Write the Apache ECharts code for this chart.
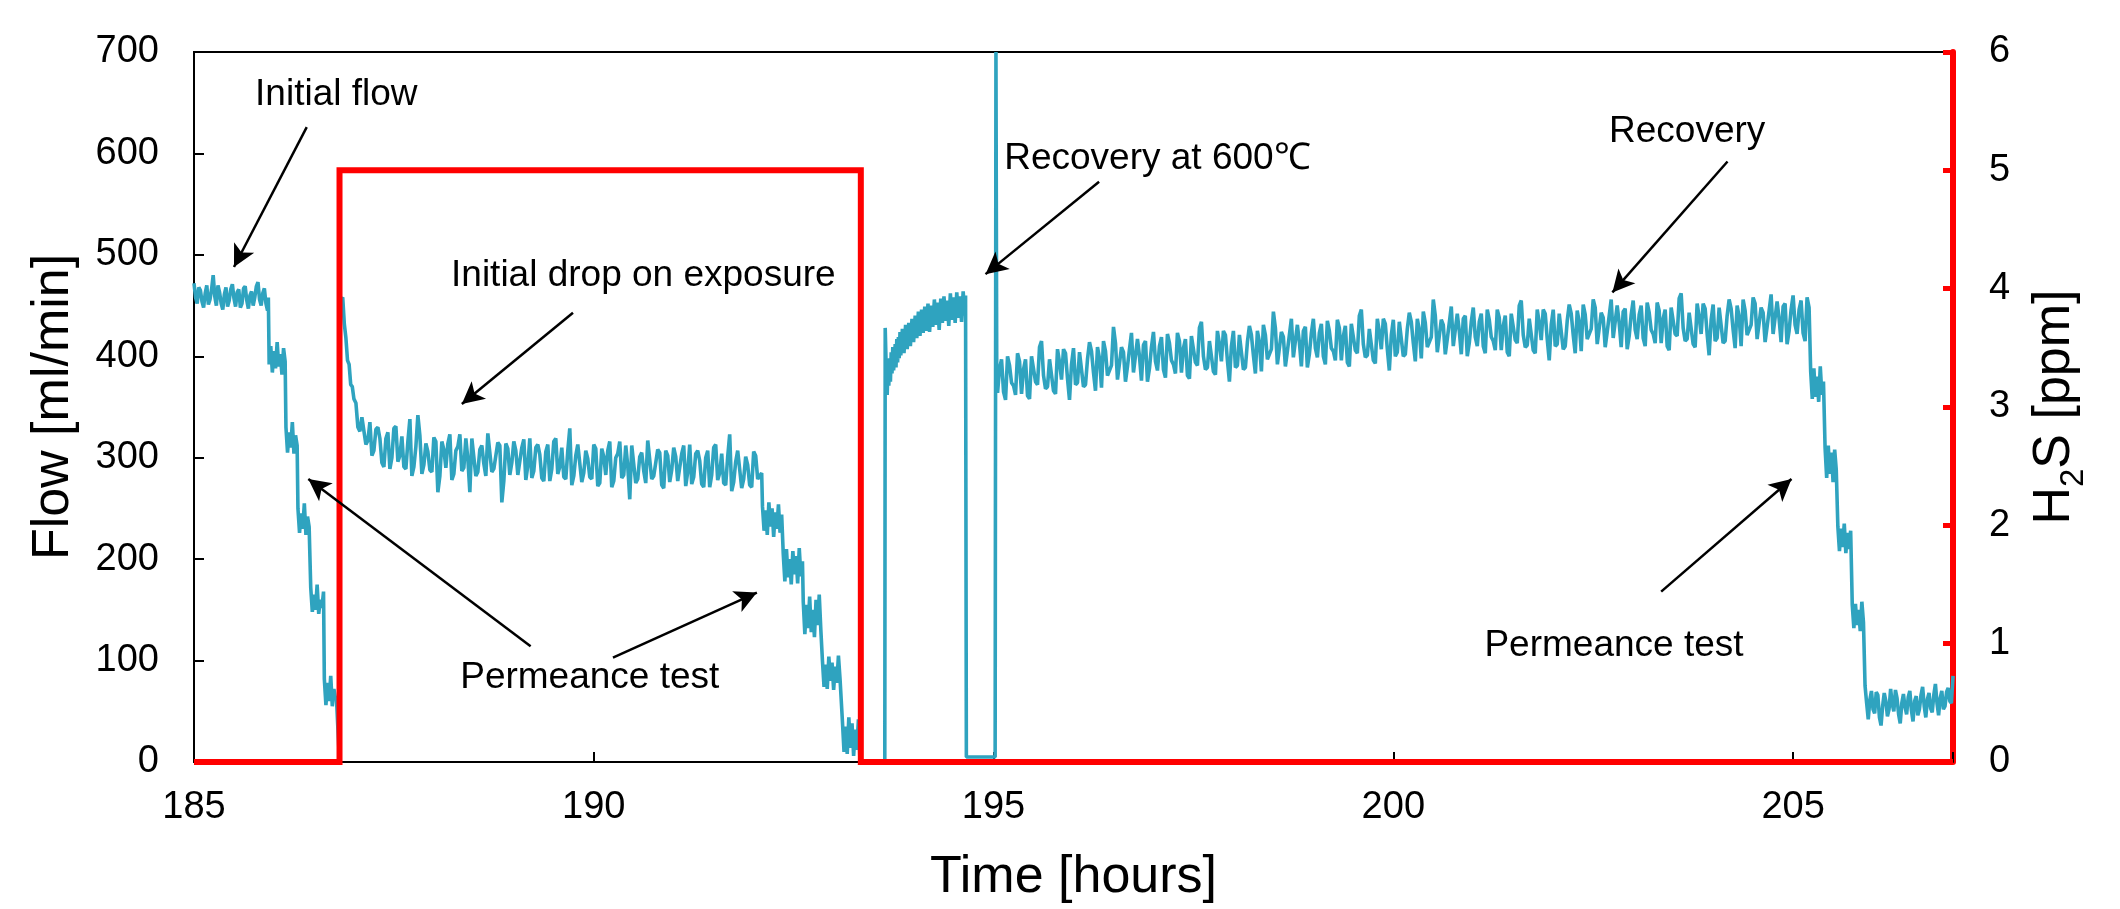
<!DOCTYPE html>
<html>
<head>
<meta charset="utf-8">
<script src="https://cdn.jsdelivr.net/npm/echarts@6/dist/echarts.min.js"></script>
<style>
  html, body { margin: 0; padding: 0; background: #fff; }
  #chart { width: 2120px; height: 909px; }
</style>
</head>
<body>
<div id="chart"></div>
<script>
// ---------- DATA (time [hours], value) ----------
const xTicks = [185, 190, 195, 200, 205];

// H2S concentration [ppm] (right axis)
const h2sData = [[185, 0], [186.82, 0], [186.82, 5], [193.34, 5], [193.34, 0], [207, 0]];

// Flow [ml/min] (left axis), read segment by segment
const flowInitial = [[185.00,472],[185.02,458],[185.04,452],[185.06,468],[185.08,465],[185.10,454],[185.12,448],[185.14,462],[185.16,470],[185.18,451],[185.20,456],[185.22,466],[185.24,480],[185.26,459],[185.28,450],[185.30,470],[185.32,463],[185.34,452],[185.36,446],[185.38,461],[185.40,468],[185.42,449],[185.44,455],[185.46,466],[185.48,471],[185.50,457],[185.52,449],[185.54,463],[185.56,466],[185.58,448],[185.60,452],[185.62,467],[185.64,469],[185.66,455],[185.68,447],[185.70,460],[185.72,464],[185.74,450],[185.76,458],[185.78,469],[185.80,473],[185.82,456],[185.84,450],[185.86,462],[185.88,467],[185.90,452],[185.92,445],[185.93,458]];

const flowStepsA = [[185.94,392],[185.96,410],[185.98,384],[186.00,405],[186.02,388],[186.04,414],[186.06,390],[186.08,402],[186.10,382],[186.12,408],[186.14,395],
[186.15,330],[186.17,305],[186.19,325],[186.21,310],[186.23,335],[186.25,304],[186.27,322],[186.29,312],
[186.30,250],[186.32,226],[186.34,245],[186.36,230],[186.38,255],[186.40,224],[186.42,242],[186.44,232],
[186.46,172],[186.48,148],[186.50,165],[186.52,150],[186.54,175],[186.56,146],[186.58,160],[186.60,152],[186.62,168],
[186.63,82],[186.65,56],[186.67,78],[186.69,60],[186.71,85],[186.73,55],[186.75,72],[186.77,62],[186.78,65],[186.82,0],[186.83,455]];

const flowExposure = [[186.86,458],[186.88,432],[186.90,418],[186.92,396],[186.94,392],[186.96,372],[186.98,370],
[187.000,358],[187.025,354],[187.050,330],[187.075,326],[187.100,340],[187.125,341],[187.150,313],[187.175,317],[187.200,335],[187.225,302],
[187.250,307],[187.275,328],[187.300,330],[187.325,319],[187.350,295],[187.375,291],[187.400,319],[187.425,325],[187.450,289],[187.475,300],
[187.500,329],[187.525,331],[187.550,296],[187.575,302],[187.600,321],[187.625,291],[187.650,289],[187.675,316],[187.700,338],[187.725,282],
[187.750,291],[187.775,311],[187.800,342],[187.825,322],[187.850,284],[187.875,293],[187.900,314],[187.925,306],[187.950,288],[187.975,286],
[188.000,320],[188.025,316],[188.050,266],[188.075,282],[188.100,316],[188.125,308],[188.150,290],[188.175,314],[188.200,323],[188.225,278],
[188.250,284],[188.275,307],[188.300,311],[188.325,323],[188.350,287],[188.375,290],[188.400,319],[188.425,299],[188.450,266],[188.475,319],
[188.500,320],[188.525,282],[188.550,286],[188.575,308],[188.600,312],[188.625,294],[188.650,282],[188.675,324],[188.700,323],[188.725,286],
[188.750,289],[188.775,302],[188.800,315],[188.825,312],[188.850,256],[188.875,277],[188.900,314],[188.925,309],[188.950,283],[188.975,295],
[189.000,316],[189.025,307],[189.050,283],[189.075,284],[189.100,310],[189.125,318],[189.150,278],[189.175,292],[189.200,319],[189.225,280],
[189.250,287],[189.275,310],[189.300,313],[189.325,303],[189.350,280],[189.375,277],[189.400,306],[189.425,313],[189.450,277],[189.475,289],
[189.500,316],[189.525,319],[189.550,284],[189.575,291],[189.600,310],[189.625,281],[189.650,279],[189.675,307],[189.700,329],[189.725,273],
[189.750,282],[189.775,302],[189.800,313],[189.825,314],[189.850,276],[189.875,285],[189.900,307],[189.925,299],[189.950,281],[189.975,279],
[190.000,313],[190.025,309],[190.050,272],[190.075,275],[190.100,309],[190.125,301],[190.150,283],[190.175,307],[190.200,316],[190.225,271],
[190.250,277],[190.275,300],[190.300,304],[190.325,316],[190.350,280],[190.375,283],[190.400,312],[190.425,292],[190.450,259],[190.475,312],
[190.500,313],[190.525,275],[190.550,279],[190.575,301],[190.600,305],[190.625,287],[190.650,275],[190.675,317],[190.700,316],[190.725,279],
[190.750,282],[190.775,295],[190.800,308],[190.825,305],[190.850,273],[190.875,270],[190.900,307],[190.925,302],[190.950,276],[190.975,288],
[191.000,310],[191.025,301],[191.050,277],[191.075,278],[191.100,304],[191.125,312],[191.150,272],[191.175,286],[191.200,313],[191.225,274],
[191.250,281],[191.275,304],[191.300,307],[191.325,297],[191.350,274],[191.375,271],[191.400,300],[191.425,307],[191.450,271],[191.475,283],
[191.500,310],[191.525,313],[191.550,278],[191.575,285],[191.600,304],[191.625,275],[191.650,273],[191.675,301],[191.700,323],[191.725,267],
[191.750,276],[191.775,296],[191.800,307],[191.825,308],[191.850,270],[191.875,279],[191.900,301],[191.925,293],[191.950,273],[191.975,271],
[192.000,306],[192.025,302],[192.050,279],[192.100,285]];

const flowStepsB = [[192.11,252],[192.13,228],[192.15,248],[192.17,224],[192.19,256],[192.21,232],[192.23,250],[192.25,222],[192.27,246],[192.29,230],[192.31,254],[192.33,226],[192.35,244],
[192.37,205],[192.39,178],[192.41,210],[192.43,182],[192.45,200],[192.47,175],[192.49,208],[192.51,185],[192.53,203],[192.55,176],[192.57,211],[192.59,183],[192.61,198],
[192.62,158],[192.64,126],[192.66,155],[192.68,132],[192.70,163],[192.72,128],[192.74,150],[192.76,123],[192.78,160],[192.80,135],[192.82,165],[192.84,130],
[192.86,100],[192.88,74],[192.90,96],[192.92,72],[192.94,104],[192.96,80],[192.98,98],[193.00,71],[193.02,94],[193.04,78],[193.06,105],[193.08,82],
[193.11,40],[193.13,10],[193.15,35],[193.17,8],[193.19,44],[193.21,14],[193.23,38],[193.25,6],[193.27,32],[193.29,12],[193.31,42],[193.33,0],[193.64,0]];

const flowRecovery600 = [[193.645,428],[193.66,380],[193.67,362],[193.68,392],[193.69,371],[193.70,398],[193.71,375],[193.72,404],[193.73,383],[193.74,409],[193.75,386],[193.76,397],[193.77,412],[193.78,389],[193.79,417],[193.80,394],[193.81,419],[193.82,398],[193.83,424],[193.84,401],
[193.86,427],[193.88,403],[193.90,431],[193.92,407],[193.94,433],[193.96,410],[193.98,437],[194.00,414],[194.02,440],[194.04,418],[194.06,444],[194.08,420],[194.10,446],[194.12,423],[194.14,449],[194.16,425],[194.18,452],[194.20,424],[194.22,450],[194.24,429],
[194.26,456],[194.28,431],[194.30,453],[194.32,426],[194.34,457],[194.36,433],[194.38,459],[194.40,435],[194.42,455],[194.44,430],[194.46,462],[194.48,436],[194.50,458],[194.52,433],[194.54,463],[194.56,438],[194.58,459],[194.60,434],[194.62,464],[194.64,440],[194.65,460],[194.66,5]];

const flowPurge = [[195.02,5],[195.03,700],[195.04,385]];

const flowRecovery = [
[195.050,364],[195.075,388],[195.100,397],[195.125,365],[195.150,357],[195.175,400],[195.200,391],[195.225,374],[195.250,371],[195.275,362],
[195.300,403],[195.325,395],[195.350,363],[195.375,387],[195.400,397],[195.425,361],[195.450,358],[195.475,400],[195.500,401],[195.525,375],
[195.550,372],[195.575,409],[195.600,415],[195.625,381],[195.650,368],[195.675,370],[195.700,397],[195.725,398],[195.750,366],[195.775,363],
[195.800,407],[195.825,394],[195.850,377],[195.875,407],[195.900,403],[195.925,378],[195.950,357],[195.975,392],[196.000,408],[196.025,372],
[196.050,374],[196.075,404],[196.100,404],[196.125,370],[196.150,372],[196.175,397],[196.200,414],[196.225,405],[196.250,384],[196.275,366],
[196.300,409],[196.325,398],[196.350,369],[196.375,415],[196.400,405],[196.425,381],[196.450,380],[196.475,391],[196.500,429],[196.525,413],
[196.550,377],[196.575,376],[196.600,409],[196.625,404],[196.650,375],[196.675,390],[196.700,407],[196.725,423],[196.750,384],[196.775,383],
[196.800,417],[196.825,400],[196.850,376],[196.875,411],[196.900,415],[196.925,375],[196.950,388],[196.975,409],[197.000,424],[197.025,395],
[197.050,386],[197.075,410],[197.100,419],[197.125,387],[197.150,379],[197.175,422],[197.200,413],[197.225,396],[197.250,392],[197.275,383],
[197.300,423],[197.325,415],[197.350,384],[197.375,408],[197.400,417],[197.425,381],[197.450,378],[197.475,420],[197.500,420],[197.525,394],
[197.550,391],[197.575,428],[197.600,434],[197.625,400],[197.650,387],[197.675,389],[197.700,415],[197.725,416],[197.750,385],[197.775,382],
[197.800,425],[197.825,412],[197.850,395],[197.875,425],[197.900,421],[197.925,396],[197.950,375],[197.975,410],[198.000,425],[198.025,389],
[198.050,391],[198.075,421],[198.100,421],[198.125,387],[198.150,389],[198.175,414],[198.200,430],[198.225,421],[198.250,401],[198.275,383],
[198.300,425],[198.325,414],[198.350,385],[198.375,431],[198.400,421],[198.425,397],[198.450,396],[198.475,407],[198.500,444],[198.525,428],
[198.550,392],[198.575,391],[198.600,424],[198.625,419],[198.650,390],[198.675,405],[198.700,421],[198.725,437],[198.750,399],[198.775,398],
[198.800,431],[198.825,414],[198.850,390],[198.875,425],[198.900,429],[198.925,389],[198.950,402],[198.975,423],[199.000,437],[199.025,408],
[199.050,399],[199.075,423],[199.100,432],[199.125,400],[199.150,392],[199.175,435],[199.200,425],[199.225,408],[199.250,405],[199.275,396],
[199.300,436],[199.325,428],[199.350,396],[199.375,420],[199.400,430],[199.425,394],[199.450,390],[199.475,432],[199.500,432],[199.525,406],
[199.550,403],[199.575,440],[199.600,446],[199.625,412],[199.650,399],[199.675,401],[199.700,427],[199.725,428],[199.750,396],[199.775,393],
[199.800,437],[199.825,424],[199.850,407],[199.875,437],[199.900,432],[199.925,407],[199.950,386],[199.975,421],[200.000,436],[200.025,400],
[200.050,404],[200.075,434],[200.100,434],[200.125,400],[200.150,402],[200.175,427],[200.200,443],[200.225,434],[200.250,413],[200.275,395],
[200.300,437],[200.325,426],[200.350,398],[200.375,444],[200.400,433],[200.425,409],[200.450,408],[200.475,419],[200.500,456],[200.525,440],
[200.550,404],[200.575,403],[200.600,436],[200.625,431],[200.650,402],[200.675,417],[200.700,433],[200.725,449],[200.750,410],[200.775,409],
[200.800,442],[200.825,425],[200.850,402],[200.875,437],[200.900,440],[200.925,400],[200.950,413],[200.975,434],[201.000,448],[201.025,419],
[201.050,410],[201.075,434],[201.100,442],[201.125,410],[201.150,403],[201.175,446],[201.200,436],[201.225,419],[201.250,415],[201.275,406],
[201.300,446],[201.325,438],[201.350,406],[201.375,430],[201.400,440],[201.425,404],[201.450,400],[201.475,442],[201.500,442],[201.525,416],
[201.550,413],[201.575,450],[201.600,455],[201.625,421],[201.650,409],[201.675,411],[201.700,437],[201.725,438],[201.750,406],[201.775,403],
[201.800,446],[201.825,433],[201.850,416],[201.875,446],[201.900,442],[201.925,417],[201.950,396],[201.975,431],[202.000,446],[202.025,410],
[202.050,412],[202.075,442],[202.100,441],[202.125,407],[202.150,410],[202.175,435],[202.200,451],[202.225,442],[202.250,421],[202.275,403],
[202.300,445],[202.325,434],[202.350,405],[202.375,451],[202.400,441],[202.425,417],[202.450,416],[202.475,427],[202.500,456],[202.525,448],
[202.550,412],[202.575,411],[202.600,443],[202.625,438],[202.650,409],[202.675,424],[202.700,440],[202.725,456],[202.750,418],[202.775,417],
[202.800,450],[202.825,433],[202.850,409],[202.875,444],[202.900,447],[202.925,407],[202.950,420],[202.975,441],[203.000,455],[203.025,426],
[203.050,417],[203.075,441],[203.100,450],[203.125,418],[203.150,410],[203.175,453],[203.200,443],[203.225,426],[203.250,422],[203.275,413],
[203.300,453],[203.325,445],[203.350,413],[203.375,437],[203.400,446],[203.425,410],[203.450,406],[203.475,448],[203.500,448],[203.525,422],
[203.550,420],[203.575,457],[203.600,462],[203.625,428],[203.650,415],[203.675,417],[203.700,443],[203.725,444],[203.750,412],[203.775,409],
[203.800,452],[203.825,439],[203.850,422],[203.875,452],[203.900,447],[203.925,422],[203.950,401],[203.975,436],[204.000,451],[204.025,415],
[204.050,418],[204.075,448],[204.100,447],[204.125,413],[204.150,415],[204.175,440],[204.200,456],[204.225,447],[204.250,426],[204.275,408],
[204.300,450],[204.325,439],[204.350,410],[204.375,456],[204.400,445],[204.425,421],[204.450,420],[204.475,431],[204.500,458],[204.525,452],
[204.550,417],[204.575,416],[204.600,448],[204.625,443],[204.650,414],[204.675,429],[204.700,445],[204.725,461],[204.750,422],[204.775,421],
[204.800,454],[204.825,437],[204.850,414],[204.875,449],[204.900,452],[204.925,412],[204.950,425],[204.975,446],[205.000,460],[205.025,431],
[205.050,422],[205.075,446],[205.100,455],[205.125,423],[205.150,415],[205.175,458],[205.200,448]];

const flowStepsC = [[205.22,385],[205.24,358],[205.26,388],[205.28,360],[205.30,380],[205.32,355],[205.34,390],[205.36,362],[205.38,375],
[205.40,310],[205.42,280],[205.44,312],[205.46,284],[205.48,305],[205.50,276],[205.52,308],[205.54,288],
[205.56,232],[205.58,208],[205.60,230],[205.62,212],[205.64,235],[205.66,206],[205.68,226],[205.70,210],[205.72,228],
[205.74,155],[205.76,132],[205.78,156],[205.80,135],[205.82,150],[205.84,129],[205.86,158],[205.88,138]];

const flowEnd = [[205.90,75],[205.92,58],[205.94,42],[205.96,61],[205.98,70],[206.00,52],[206.02,48],[206.04,69],[206.06,66],[206.08,44],[206.10,36],[206.12,55],[206.14,68],[206.16,60],[206.18,45],[206.20,52],[206.22,72],[206.24,57],[206.26,50],[206.28,71],
[206.30,63],[206.32,47],[206.34,38],[206.36,58],[206.38,67],[206.40,54],[206.42,47],[206.44,64],[206.46,70],[206.48,51],[206.50,40],[206.52,60],[206.54,65],[206.56,46],[206.58,52],[206.60,66],[206.62,74],[206.64,55],[206.66,44],[206.68,62],
[206.70,68],[206.72,53],[206.74,49],[206.76,66],[206.78,77],[206.80,58],[206.82,46],[206.84,63],[206.86,70],[206.88,52],[206.90,55],[206.92,69],[206.94,73],[206.96,60],[206.98,58],[207.00,85]];

// Annotations (positions in data units: [time, flow])
const annotationLabels = [
  { name: 'Initial flow', value: [186.78, 658] },
  { name: 'Initial drop on exposure', value: [190.62, 479] },
  { name: 'Permeance test', value: [189.95, 83] },
  { name: 'Recovery at 600\u2103', value: [197.05, 595] },
  { name: 'Recovery', value: [203.675, 621] },
  { name: 'Permeance test', value: [202.76, 115] }
];
const annotationArrows = [
  [[186.41, 626], [185.50, 488]],
  [[189.74, 443], [188.35, 353]],
  [[189.21, 114], [186.43, 279]],
  [[190.24, 103], [192.04, 167]],
  [[196.32, 572], [194.90, 481]],
  [[204.18, 592], [202.74, 463]],
  [[203.35, 168], [204.98, 279]]
];

// ---------- CHART ----------
const flowData = [].concat(flowInitial, flowStepsA, flowExposure, flowStepsB,
  flowRecovery600, flowPurge, flowRecovery, flowStepsC, flowEnd);

const FONT = "'Liberation Sans', Arial, sans-serif";
const chart = echarts.init(document.getElementById('chart'), null, { renderer: 'canvas' });

chart.setOption({
  animation: false,
  backgroundColor: '#fff',
  grid: {
    left: 194, top: 52, width: 1759, height: 717,
    show: true, borderColor: '#000', borderWidth: 2, backgroundColor: 'transparent'
  },
  xAxis: {
    type: 'value', min: 185, max: 207, interval: 5,
    name: 'Time [hours]', nameLocation: 'middle', nameGap: 90,
    nameTextStyle: { fontSize: 52, color: '#000', fontFamily: FONT },
    axisLine: { show: true, lineStyle: { color: '#000', width: 2 } },
    axisTick: { show: true, inside: true, length: 10, lineStyle: { color: '#000', width: 2 } },
    axisLabel: {
      fontSize: 38, color: '#000', fontFamily: FONT, margin: 27,
      formatter: v => (xTicks.indexOf(v) >= 0 ? String(v) : '')
    },
    splitLine: { show: false }
  },
  yAxis: [
    {
      type: 'value', min: 0, max: 700, interval: 100, position: 'left',
      name: 'Flow [ml/min]', nameLocation: 'middle', nameGap: 114, nameRotate: 90,
      nameTextStyle: { fontSize: 52, color: '#000', fontFamily: FONT },
      axisLine: { show: true, lineStyle: { color: '#000', width: 2 } },
      axisTick: { show: true, inside: true, length: 10, lineStyle: { color: '#000', width: 2 } },
      axisLabel: { fontSize: 38, color: '#000', fontFamily: FONT, margin: 35 },
      splitLine: { show: false }
    },
    {
      type: 'value', min: 0, max: 6, interval: 1, position: 'right',
      name: '{n|H}{s|2}{n|S [ppm]}', nameLocation: 'middle', nameGap: 67, nameRotate: 90,
      nameTextStyle: {
        fontSize: 52, color: '#000', fontFamily: FONT,
        rich: {
          n: { fontSize: 52, lineHeight: 70, color: '#000', fontFamily: FONT },
          s: { fontSize: 33, lineHeight: 33, verticalAlign: 'bottom', color: '#000', fontFamily: FONT }
        }
      },
      axisLine: { show: true, lineStyle: { color: '#ff0000', width: 6 } },
      axisTick: { show: true, inside: true, length: 10, lineStyle: { color: '#ff0000', width: 5 } },
      axisLabel: { fontSize: 38, color: '#000', fontFamily: FONT, margin: 36 },
      splitLine: { show: false }
    }
  ],
  series: [
    {
      name: 'Flow', type: 'line', yAxisIndex: 0, data: flowData,
      showSymbol: false, symbol: 'none', sampling: 'none',
      lineStyle: { color: '#2fa3bf', width: 3.6 },
      z: 2
    },
    {
      name: 'H2S', type: 'line', yAxisIndex: 1, data: h2sData,
      showSymbol: false, symbol: 'none', clip: false,
      lineStyle: { color: '#ff0000', width: 6, join: 'miter' },
      z: 3
    },
    {
      name: 'annotations', type: 'scatter', yAxisIndex: 0,
      data: annotationLabels, symbolSize: 1,
      itemStyle: { color: 'rgba(0,0,0,0)', opacity: 1 },
      label: {
        show: true, position: 'inside', formatter: p => p.name,
        fontSize: 37, color: '#000', fontFamily: FONT, opacity: 1,
        textBorderWidth: 0, textShadowBlur: 0
      },
      silent: true, z: 5,
      markLine: {
        silent: true, animation: false,
        symbol: ['none', 'arrow'], symbolSize: [17, 22],
        lineStyle: { color: '#000', width: 2.5, type: 'solid', opacity: 1 },
        label: { show: false },
        emphasis: { disabled: true },
        data: annotationArrows.map(a => [{ coord: a[0] }, { coord: a[1] }])
      }
    }
  ]
});
</script>
</body>
</html>
